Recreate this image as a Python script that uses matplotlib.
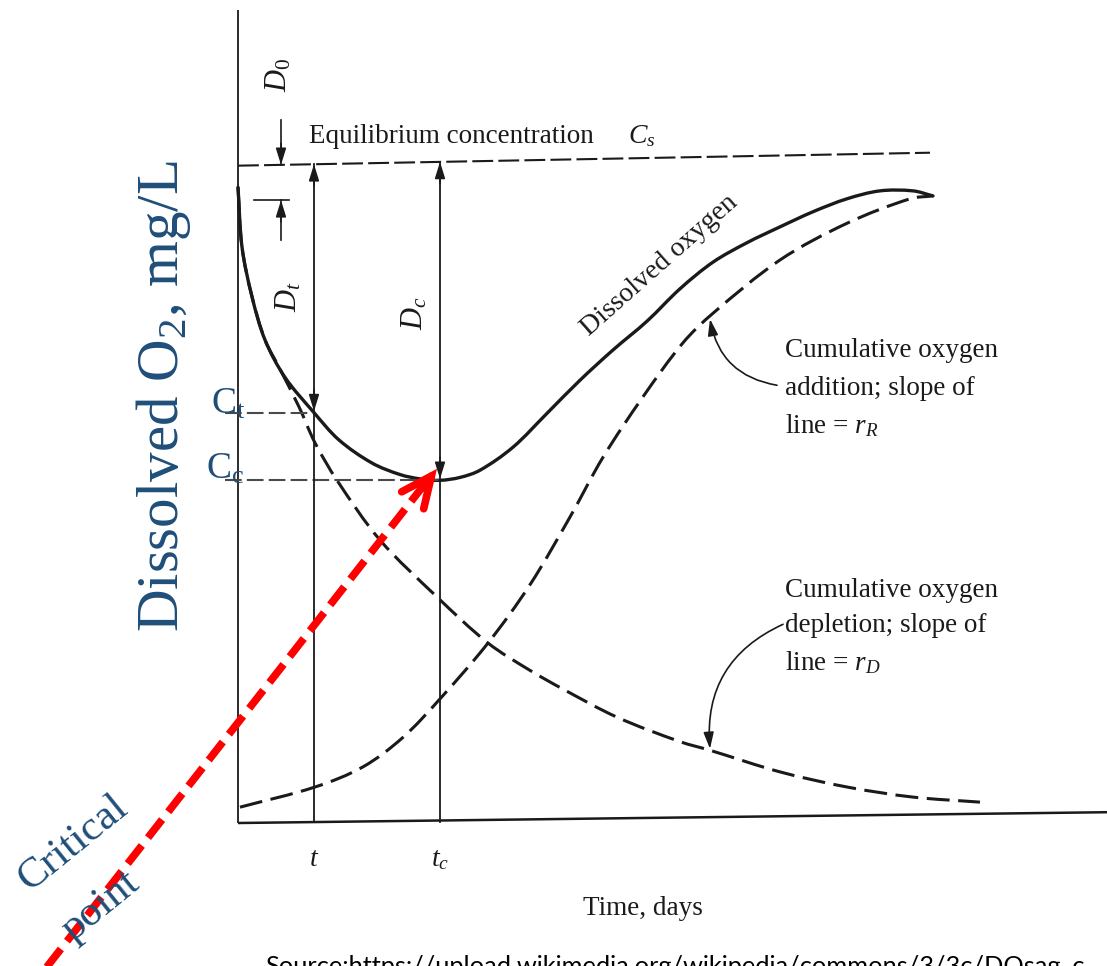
import numpy as np
import matplotlib
matplotlib.use("Agg")
import matplotlib.pyplot as plt
from matplotlib.path import Path
from matplotlib.patches import PathPatch

plt.rcParams['font.family'] = ['Liberation Serif', 'DejaVu Serif']
plt.rcParams['mathtext.fontset'] = 'custom'
plt.rcParams['mathtext.rm'] = 'Liberation Serif'
plt.rcParams['mathtext.it'] = 'Liberation Serif:italic'

# ---------------- data (time in days, concentration in mg/L) -------------
do_t = [0.00, 0.04, 0.14, 0.27, 0.47, 0.76, 1.01, 1.34, 1.62, 1.82, 2.02, 2.22, 2.42,
        2.75, 3.09, 3.42, 3.75, 4.09, 4.42, 4.75, 5.09, 5.42, 5.75, 6.09, 6.42, 6.75, 6.95]
do_c = [8.83, 8.00, 7.31, 6.71, 6.19, 5.70, 5.32, 5.00, 4.84, 4.78, 4.76, 4.80, 4.90,
        5.22, 5.69, 6.15, 6.57, 6.97, 7.42, 7.79, 8.06, 8.28, 8.49, 8.67, 8.78, 8.78, 8.71]

dep_t = [0.00, 0.04, 0.14, 0.27, 0.41, 0.61, 0.77, 0.99, 1.42, 1.99, 2.50, 2.92,
         3.25, 3.79, 4.42, 4.72, 5.42, 6.09, 6.75, 7.42]
dep_c = [8.83, 8.00, 7.31, 6.71, 6.33, 5.78, 5.28, 4.76, 3.93, 3.14, 2.50, 2.12,
         1.86, 1.47, 1.13, 1.01, 0.71, 0.50, 0.36, 0.29]

add_t = [0.02, 0.77, 1.25, 1.65, 2.03, 2.50, 2.92, 3.32, 3.65, 4.05, 4.45, 4.75,
         5.42, 6.09, 6.72, 6.95]
add_c = [0.22, 0.50, 0.78, 1.19, 1.74, 2.50, 3.31, 4.25, 5.08, 5.92, 6.67, 7.08,
         7.82, 8.33, 8.67, 8.71]

cs_t = [0.00, 6.92]          # equilibrium concentration line
cs_c = [9.13, 9.31]
axis_t = [0.00, 8.69]        # time axis
axis_c = [0.00, 0.15]
yaxis_top = 11.29

t_mark, tc_mark = 0.76, 2.02
ct_level, cc_level = 5.70, 4.76

x_labels = ['$t$', '$t_c$']
ink = '#1a1a1a'
blue = '#1F4E79'
red = '#FF0000'

# ---------------- figure ----------------
fig = plt.figure(figsize=(11.07, 9.66), dpi=100)
ax = fig.add_axes([0, 0, 1, 1])
ax.set_xlim(-2.38, 8.69)
ax.set_ylim(-1.986, 11.431)
ax.axis('off')


def cs_at(x):
    return float(np.interp(x, cs_t, cs_c))


def smooth_curve(xs, ys, **kw):
    """Draw a smooth cubic-Bezier path through the read points."""
    P = np.column_stack([xs, ys]).astype(float)
    S = np.array([100.0, 72.0])          # pixel scale for isotropic distances
    Q = P * S
    n = len(Q)
    d = np.linalg.norm(np.diff(Q, axis=0), axis=1)
    T = np.zeros_like(Q)
    T[0] = (Q[1] - Q[0]) / d[0]
    T[-1] = (Q[-1] - Q[-2]) / d[-1]
    for i in range(1, n - 1):
        T[i] = (Q[i + 1] - Q[i - 1]) / (d[i - 1] + d[i])
    verts = [Q[0]]
    codes = [Path.MOVETO]
    for i in range(n - 1):
        verts += [Q[i] + T[i] * d[i] / 3, Q[i + 1] - T[i + 1] * d[i] / 3, Q[i + 1]]
        codes += [Path.CURVE4] * 3
    verts = np.array(verts) / S
    patch = PathPatch(Path(verts, codes), fill=False, **kw)
    ax.add_patch(patch)


def head(tip, tail, scale=11, hl=0.9, hw=0.28, color=ink, lw=1.2):
    ax.annotate('', xy=tip, xytext=tail,
                arrowprops=dict(arrowstyle=f'-|>,head_length={hl},head_width={hw}',
                                color=color, lw=lw, mutation_scale=scale,
                                shrinkA=0, shrinkB=0))


# axes lines
ax.plot([0, 0], [0, yaxis_top], color=ink, lw=1.3, solid_capstyle='butt')
ax.plot(axis_t, axis_c, color=ink, lw=1.8, solid_capstyle='butt')

# equilibrium line
ax.plot(cs_t, cs_c, color=ink, lw=1.5, linestyle=(0, (10, 2.5)))

# curves
smooth_curve(do_t, do_c, edgecolor=ink, lw=2.4, capstyle='round')
smooth_curve(dep_t, dep_c, edgecolor=ink, lw=2.2, linestyle=(0, (7.5, 2.8)))
smooth_curve(add_t, add_c, edgecolor=ink, lw=2.2, linestyle=(0, (7.5, 2.8)))

# level guides Ct, Cc
ax.plot([-0.13, t_mark], [ct_level, ct_level], color='#4a4a4a', lw=1.5,
        linestyle=(0, (8, 2.5)))
ax.plot([-0.13, tc_mark], [cc_level, cc_level], color='#4a4a4a', lw=1.5,
        linestyle=(0, (8, 2.5)))

# vertical dimension lines
for xm, lev in [(t_mark, ct_level), (tc_mark, cc_level)]:
    top = cs_at(xm)
    ax.plot([xm, xm], [0.01, top], color=ink, lw=1.3)
    head((xm, top), (xm, top - 0.3))
    head((xm, lev + 0.02), (xm, lev + 0.32))

# D0 markers
d0_x = 0.43
ax.plot([d0_x, d0_x], [9.76, cs_at(d0_x)], color=ink, lw=1.2)
head((d0_x, cs_at(d0_x)), (d0_x, cs_at(d0_x) + 0.3))
ax.plot([0.16, 0.51], [8.65, 8.65], color=ink, lw=1.2)
ax.plot([d0_x, d0_x], [8.10, 8.65], color=ink, lw=1.2)
head((d0_x, 8.65), (d0_x, 8.35))

ax.text(0.41, 10.39, '$D_0$', rotation=90, ha='center', va='center', fontsize=22, color=ink)
ax.text(0.51, 7.31, '$D_t$', rotation=90, ha='center', va='center', fontsize=22, color=ink)
ax.text(1.77, 7.08, '$D_c$', rotation=90, ha='center', va='center', fontsize=22, color=ink)

# texts
ax.text(0.71, 9.44, 'Equilibrium concentration', fontsize=19.5, color=ink,
        ha='left', va='baseline')
ax.text(3.90, 9.44, '$C_s$', fontsize=20, color=ink, ha='left', va='baseline')
ax.text(4.22, 7.74, 'Dissolved oxygen', fontsize=20, color=ink, rotation=41.5,
        ha='center', va='center', rotation_mode='anchor')

for txt, yy in zip(['Cumulative oxygen', 'addition; slope of', 'line = $r_R$'],
                   [6.47, 5.94, 5.42]):
    ax.text(5.47, yy, txt, fontsize=19.5, color=ink, ha='left', va='baseline')
for txt, yy in zip(['Cumulative oxygen', 'depletion; slope of', 'line = $r_D$'],
                   [3.14, 2.65, 2.13]):
    ax.text(5.47, yy, txt, fontsize=19.5, color=ink, ha='left', va='baseline')

ax.annotate('', xy=(4.72, 7.00), xytext=(5.39, 6.08),
            arrowprops=dict(arrowstyle='-|>,head_length=0.9,head_width=0.28',
                            mutation_scale=11, color=ink, lw=1.2,
                            connectionstyle='arc3,rad=-0.35', shrinkA=0, shrinkB=0))
ax.annotate('', xy=(4.72, 1.03), xytext=(5.45, 2.76),
            arrowprops=dict(arrowstyle='-|>,head_length=0.9,head_width=0.28',
                            mutation_scale=11, color=ink, lw=1.2,
                            connectionstyle='arc3,rad=0.35', shrinkA=0, shrinkB=0))

# time tick labels
for xm, lab in zip([t_mark, tc_mark], x_labels):
    ax.text(xm, -0.60, lab, fontsize=20, color=ink, ha='center', va='baseline')
ax.text(4.05, -1.28, 'Time, days', fontsize=19.5, color=ink, ha='center', va='baseline')

# blue labels
ax.text(-0.74, 5.92, 'Dissolved O$_2$, mg/L', rotation=90, fontsize=42.5, color=blue,
        ha='center', va='center')
ax.text(0.07, 5.69, 'C$_{\\mathrm{t}}$', fontsize=27, color=blue, ha='right', va='baseline')
ax.text(0.06, 4.79, 'C$_{\\mathrm{c}}$', fontsize=27, color=blue, ha='right', va='baseline')
ax.text(-1.65, -0.28, 'Critical', rotation=39, fontsize=31, color=blue,
        ha='center', va='center', rotation_mode='anchor')
ax.text(-1.38, -1.15, 'point', rotation=39, fontsize=31, color=blue,
        ha='center', va='center', rotation_mode='anchor')

# red critical point arrow
arrow_tail = (-1.98, -2.12)
arrow_tip = (1.99, 4.92)
ax.plot([arrow_tail[0], arrow_tip[0] - 0.06], [arrow_tail[1], arrow_tip[1] - 0.10],
        color=red, lw=5.5, linestyle=(0, (3, 1.3)), solid_capstyle='butt')
ax.annotate('', xy=arrow_tip, xytext=(arrow_tip[0] - 0.15, arrow_tip[1] - 0.27),
            arrowprops=dict(arrowstyle='->,head_length=1.1,head_width=0.5',
                            mutation_scale=20, color=red, lw=5.5,
                            shrinkA=0, shrinkB=0, joinstyle='miter', capstyle='round'))

# source (cut off by the lower edge, as in the reference)
ax.text(0.27, -2.10, 'Source:https://upload.wikimedia.org/wikipedia/commons/3/3c/DOsag_c',
        fontsize=18.3, color='black', family=['Lato', 'DejaVu Sans'], ha='left', va='baseline')

fig.savefig('out.png', dpi=100)
